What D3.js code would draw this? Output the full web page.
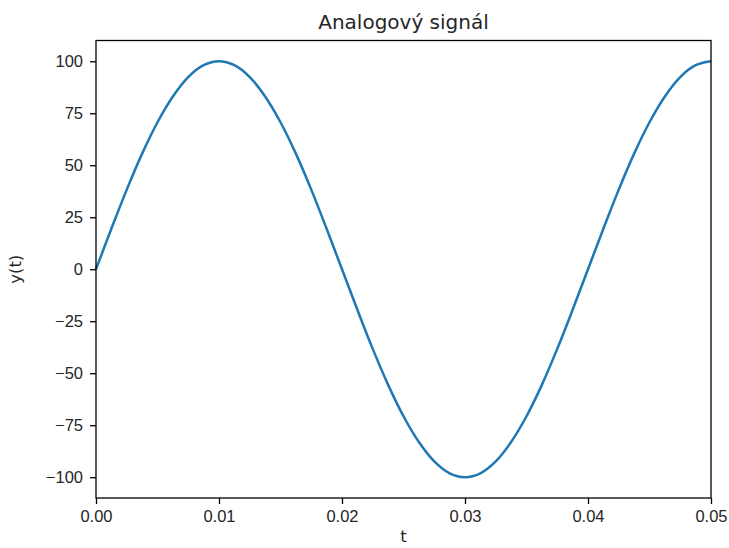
<!DOCTYPE html>
<html>
<head>
<meta charset="utf-8">
<title>Analogový signál</title>
<script src="https://d3js.org/d3.v7.min.js"></script>
<style>
  body { margin: 0; background: #fff; }
  svg { display: block; font-family: "DejaVu Sans", sans-serif; }
  .tick text { font-size: 16.5px; fill: #262626; }
  .tick line { stroke: #000; stroke-width: 1.3px; }
</style>
</head>
<body>
<svg width="729" height="548"></svg>
<script>
  // samples, every 0.00125 s
  const tValues = d3.range(41).map(i => i * 0.00125);
  const yValues = [
    0, 19.5, 38.3, 55.6, 70.7, 83.1, 92.4, 98.1, 100,
    98.1, 92.4, 83.1, 70.7, 55.6, 38.3, 19.5, 0,
    -19.5, -38.3, -55.6, -70.7, -83.1, -92.4, -98.1, -100,
    -98.1, -92.4, -83.1, -70.7, -55.6, -38.3, -19.5, 0,
    19.5, 38.3, 55.6, 70.7, 83.1, 92.4, 98.1, 100
  ];
  const xTicks = [0, 0.01, 0.02, 0.03, 0.04, 0.05];
  const yTicks = [-100, -75, -50, -25, 0, 25, 50, 75, 100];

  const data = tValues.map((t, i) => ({ t: t, y: yValues[i] }));

  const svg = d3.select('svg');
  const plotLeft = 96, plotRight = 711, plotTop = 40.5, plotBottom = 498;

  const x = d3.scaleLinear().domain([0, 0.05]).range([plotLeft, plotRight]);
  const y = d3.scaleLinear().domain([-110, 110]).range([plotBottom, plotTop]);

  svg.append('path')
    .datum(data)
    .attr('fill', 'none')
    .attr('stroke', '#1f77b4')
    .attr('stroke-width', 2.5)
    .attr('d', d3.line().x(d => x(d.t)).y(d => y(d.y)).curve(d3.curveCatmullRom));

  svg.append('rect')
    .attr('x', plotLeft).attr('y', plotTop)
    .attr('width', plotRight - plotLeft).attr('height', plotBottom - plotTop)
    .attr('fill', 'none').attr('stroke', '#000').attr('stroke-width', 1.3);

  const xAxis = svg.append('g')
    .attr('transform', `translate(0,${plotBottom})`)
    .call(d3.axisBottom(x).tickValues(xTicks).tickFormat(d3.format('.2f')).tickSize(6).tickPadding(6));
  xAxis.select('.domain').remove();

  const yAxis = svg.append('g')
    .attr('transform', `translate(${plotLeft},0)`)
    .call(d3.axisLeft(y).tickValues(yTicks).tickFormat(d => d < 0 ? '\u2212' + Math.abs(d) : d).tickSize(6).tickPadding(7));
  yAxis.select('.domain').remove();

  svg.append('text')
    .attr('x', (plotLeft + plotRight) / 2).attr('y', 28.5)
    .attr('text-anchor', 'middle')
    .attr('font-size', 20)
    .attr('fill', '#262626')
    .text('Analogový signál');

  svg.append('text')
    .attr('x', (plotLeft + plotRight) / 2).attr('y', 542)
    .attr('text-anchor', 'middle')
    .attr('font-size', 16.5)
    .attr('fill', '#262626')
    .text('t');

  svg.append('text')
    .attr('transform', `translate(21,${(plotTop + plotBottom) / 2}) rotate(-90)`)
    .attr('text-anchor', 'middle')
    .attr('font-size', 16.5)
    .attr('fill', '#262626')
    .text('y(t)');
</script>
</body>
</html>
